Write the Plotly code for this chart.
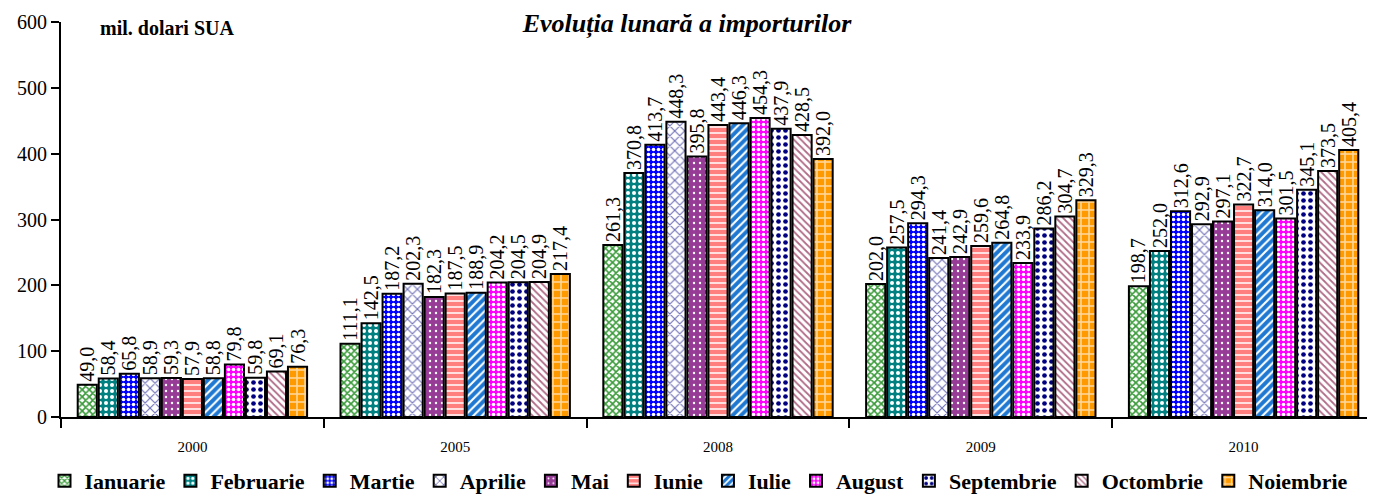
import plotly.graph_objects as go

years = ["2000", "2005", "2008", "2009", "2010"]
months = ["Ianuarie", "Februarie", "Martie", "Aprilie", "Mai", "Iunie",
          "Iulie", "August", "Septembrie", "Octombrie", "Noiembrie"]

ianuarie = [49.0, 111.1, 261.3, 202.0, 198.7]
februarie = [58.4, 142.5, 370.8, 257.5, 252.0]
martie = [65.8, 187.2, 413.7, 294.3, 312.6]
aprilie = [58.9, 202.3, 448.3, 241.4, 292.9]
mai = [59.3, 182.3, 395.8, 242.9, 297.1]
iunie = [57.9, 187.5, 443.4, 259.6, 322.7]
iulie = [58.8, 188.9, 446.3, 264.8, 314.0]
august = [79.8, 204.2, 454.3, 233.9, 301.5]
septembrie = [59.8, 204.5, 437.9, 286.2, 345.1]
octombrie = [69.1, 204.9, 428.5, 304.7, 373.5]
noiembrie = [76.3, 217.4, 392.0, 329.3, 405.4]

series = [ianuarie, februarie, martie, aprilie, mai, iunie, iulie, august,
          septembrie, octombrie, noiembrie]

# (shape, fgcolor, bgcolor, size, solidity)
styles = [
    ("x", "#3a9a3a", "#ffffff", 5, 0.55),
    (".", "#ffffff", "#008080", 6, 0.35),
    (".", "#ffffff", "#0000ff", 5, 0.4),
    ("x", "#7070b8", "#ffffff", 7, 0.3),
    (".", "#ffffff", "#963c96", 6, 0.12),
    ("-", "#ffffff", "#ff7f7f", 6, 0.25),
    ("/", "#ffffff", "#1e78d2", 6, 0.35),
    (".", "#ffffff", "#ff00ff", 5, 0.4),
    (".", "#000080", "#ffffff", 7, 0.35),
    ("\\", "#b06a86", "#ffffff", 5, 0.35),
    ("+", "#ffd9a0", "#ff9900", 8, 0.35),
]

FONT = "Liberation Serif, Times New Roman, serif"

fig = go.Figure()
for name, vals, st in zip(months, series, styles):
    shape, fg, bg, size, sol = st
    fig.add_trace(go.Bar(
        name=name, x=years, y=vals,
        text=[f"{v:.1f}".replace(".", ",") for v in vals],
        textposition="outside", textangle=-90,
        textfont=dict(family=FONT, size=20, color="black"),
        constraintext="none", cliponaxis=False,
        marker=dict(color=bg, line=dict(color="black", width=2),
                    pattern=dict(shape=shape, fgcolor=fg, bgcolor=bg,
                                 size=size, solidity=sol, fillmode="replace")),
    ))

fig.update_layout(
    width=1367, height=494,
    margin=dict(l=53, r=0, t=14, b=85),
    paper_bgcolor="white", plot_bgcolor="white",
    barmode="group", bargap=0.12, bargroupgap=0.09,
    font=dict(family=FONT, color="black"),
    title=dict(text="<b><i>Evoluția lunară a importurilor</i></b>",
               x=(687 - 8) / 1367, xref="container", y=1 - 6 / 494, yref="container",
               yanchor="top", xanchor="center", pad=dict(t=0, b=0),
               font=dict(family=FONT, size=26, color="black")),
    showlegend=True,
    legend=dict(orientation="h", x=(699 - 8) / 1367, xref="container",
                xanchor="center",
                y=1 - 473 / 494, yref="container", yanchor="middle",
                font=dict(family=FONT, size=22, color="black", weight="bold"),
                itemwidth=30, tracegroupgap=0, traceorder="normal"),
    xaxis=dict(showline=True, linecolor="black", linewidth=2,
               ticks="outside", tickson="boundaries", ticklen=9,
               tickwidth=2, tickcolor="black", automargin=False,
               tickfont=dict(family=FONT, size=15), ticklabelstandoff=15,
               showgrid=False),
    yaxis=dict(range=[0, 600], dtick=100, showline=True, linecolor="black",
               linewidth=2, ticks="outside", ticklen=8, tickwidth=2,
               tickcolor="black", tickfont=dict(family=FONT, size=20),
               showgrid=False, zeroline=False, automargin=False),
    annotations=[dict(text="<b>mil. dolari SUA</b>", xref="paper", yref="paper",
                      x=0.028, y=0.985, xanchor="left", yanchor="middle",
                      showarrow=False, font=dict(family=FONT, size=20))],
)

fig.write_html("out.html")
